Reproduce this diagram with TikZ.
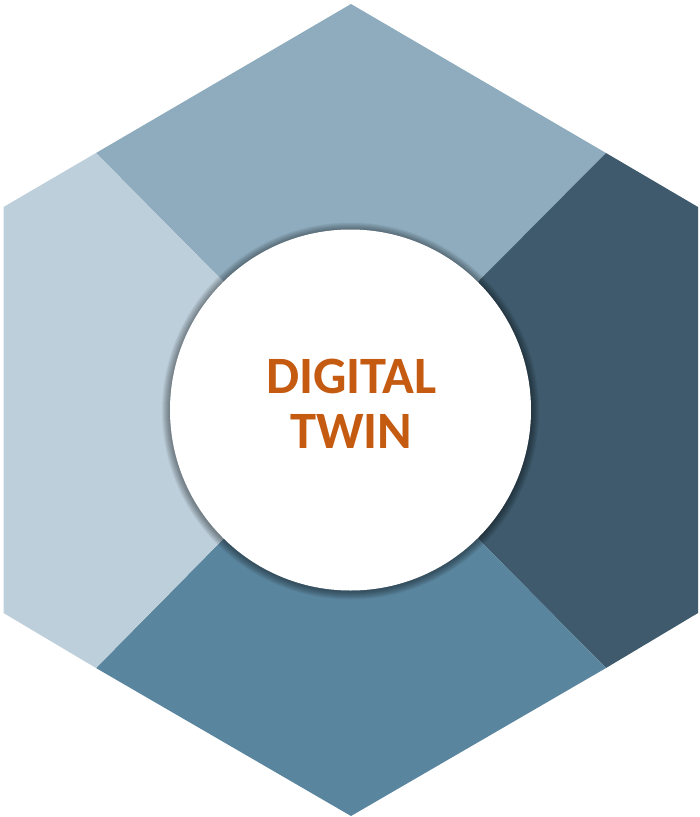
\documentclass[tikz,border=0pt]{standalone}
\usepackage{fontspec}
\setmainfont{Carlito}
\usepackage{xcolor}
\usepackage{tikz}
\usetikzlibrary{calc}
\definecolor{topblue}{RGB}{142,172,190}
\definecolor{leftblue}{RGB}{189,207,219}
\definecolor{rightblue}{RGB}{62,90,108}
\definecolor{bottomblue}{RGB}{90,133,158}
\definecolor{twinorange}{RGB}{197,90,17}
\tikzset{
	part/.style={line join=miter},
	core/.style={circle,fill=white,minimum size=361pt,inner sep=0pt},
	title/.style={align=center,text=twinorange,font=\bfseries\fontsize{52.5}{55}\selectfont}
}

\begin{document}
\begin{tikzpicture}[x=1pt,y=-1pt]
	\useasboundingbox (0,0) rectangle (700,817);
	\coordinate (C) at (350.5,410);
	\coordinate (T) at (351,4);
	\coordinate (UR) at (698,207);
	\coordinate (LR) at (698,613);
	\coordinate (B) at (351,816);
	\coordinate (LL) at (3.5,613);
	\coordinate (UL) at (3.5,207);
	\coordinate (P1) at (96,153);
	\coordinate (P2) at (606,153);
	\coordinate (P3) at (606,668);
	\coordinate (P4) at (96,668);
	\fill[part,topblue] (P1) -- (T) -- (P2) -- (C) -- cycle;
	\fill[part,rightblue] (P2) -- (UR) -- (LR) -- (P3) -- (C) -- cycle;
	\fill[part,bottomblue] (P3) -- (B) -- (P4) -- (C) -- cycle;
	\fill[part,leftblue] (P4) -- (LL) -- (UL) -- (P1) -- (C) -- cycle;
	\foreach \r in {1,...,8}
		\fill[black,opacity=0.055] ($(C)+(0,1)$) circle (180.5+\r);
	\node[core] (circ) at (C) {};
	\node[title] (name) at (351.5,404) {DIGITAL\\TWIN};
\end{tikzpicture}
\end{document}
